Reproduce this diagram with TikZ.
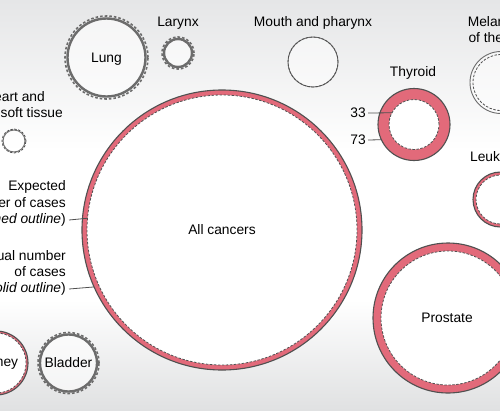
\documentclass[tikz,border=0pt]{standalone}
\usepackage{fontspec}
\setmainfont{Liberation Sans}
\definecolor{ringred}{RGB}{226,106,122}
\definecolor{edgegrey}{RGB}{80,80,80}
\definecolor{softgrey}{RGB}{108,108,108}
\definecolor{bgtop}{RGB}{229,230,231}
\definecolor{bgbot}{RGB}{224,225,226}
\begin{document}
\begin{tikzpicture}[x=1pt,y=-1pt,
  every node/.style={font=\fontsize{13.8}{16.5}\selectfont, text=black},
  disc/.style={circle, inner sep=0pt, outer sep=0pt, minimum size=#1},
  redouter/.style={disc=#1, fill=ringred, draw=edgegrey, line width=1.1pt},
  dashin/.style={disc=#1, fill=white, draw=edgegrey, line width=0.8pt, dash pattern=on 2.5pt off 1.5pt},
  greysolid/.style={disc=#1, fill=white, fill opacity=0.6, draw=softgrey, draw opacity=1, line width=2.4pt},
  greydash/.style={disc=#1, draw=softgrey, line width=1.6pt, dash pattern=on 2.6pt off 2pt},
  thinsolid/.style={disc=#1, fill=white, fill opacity=0.5, draw=softgrey, draw opacity=1, line width=0.9pt},
  thindash/.style={disc=#1, draw=edgegrey, line width=0.8pt, dash pattern=on 2.5pt off 1.5pt},
  lbl/.style={inner sep=0pt, anchor=east},
  lead/.style={draw=edgegrey, line width=0.8pt}]
\useasboundingbox (0,0) rectangle (500,410);
\clip (0,0) rectangle (500,410);
\fill[white] (0,0) rectangle (500,410);
\shade[top color=bgtop, bottom color=white] (0,0) rectangle (500,150.5);
\shade[top color=white, bottom color=bgbot] (0,299.5) rectangle (500,410);

% All cancers
\node[redouter=280pt] (allo) at (222,230) {};
\node[dashin=270pt] (alli) at (222,230) {};
\node (allt) at (222,230) {All cancers};

% Lung
\node[greydash=83pt] (lungo) at (106.5,57.5) {};
\node[greysolid=78pt] (lungi) at (106.5,57.5) {};
\node (lungt) at (106.5,59) {Lung};

% Larynx
\node[greydash=32pt] (laro) at (178,53) {};
\node[greysolid=28pt] (lari) at (178,53) {};
\node (lart) at (178,23) {Larynx};

% Heart and soft tissue
\node[thinsolid=22pt] (hearti) at (14,141) {};
\node[thindash=24pt] (hearto) at (14,141) {};
\node[lbl] (heart1) at (45,97) {Heart and};
\node[lbl] (heart2) at (63,113) {soft tissue};

% Mouth and pharynx
\node[thinsolid=50pt] (mouthi) at (313,62) {};
\node[thindash=50pt] (moutho) at (313,62) {};
\node (moutht) at (313,23) {Mouth and pharynx};

% Thyroid
\node[redouter=72pt] (thyo) at (414,124.5) {};
\node[dashin=50pt] (thyi) at (414,124.5) {};
\node (thyt) at (413,73) {Thyroid};
\node[lbl] (n33) at (366,113) {33};
\node[lbl] (n73) at (366,140) {73};
\draw[lead] (n33.east) ++(2,0) -- (thyi.152.6);
\draw[lead] (n73.east) ++(2,0) -- (thyo.205.5);

% Melanoma
\node[thinsolid=62pt] (melo) at (501,82.5) {};
\node[thindash=56pt] (meli) at (501,82.5) {};
\node[align=center] (melt) at (500,29.5) {Melanoma\\of the skin};

% Leukemia
\node[redouter=55pt] (leuo) at (500.5,199.5) {};
\node[dashin=49pt] (leui) at (500.5,199.5) {};
\node (leut) at (500,157) {Leukemia};

% Prostate
\node[redouter=150pt] (proo) at (448,318) {};
\node[dashin=134pt] (proi) at (448,318) {};
\node (prot) at (447,318) {Prostate};

% Kidney
\node[redouter=64pt] (kido) at (-4,363) {};
\node[dashin=60pt] (kidi) at (-4,363) {};
\node (kidt) at (-3,363) {Kidney};

% Bladder
\node[greydash=61pt] (blao) at (68.5,363) {};
\node[greysolid=57pt] (blai) at (68.5,363) {};
\node (blat) at (68.5,363) {Bladder};

% Legend labels
\node[lbl] (exp1) at (66,187) {Expected};
\node[lbl] (exp2) at (66,203) {number of cases};
\node[lbl] (exp3) at (66,220) {(\textit{dashed outline})};
\node[lbl] (act1) at (66,256) {Actual number};
\node[lbl] (act2) at (66,272) {of cases};
\node[lbl] (act3) at (66,289) {(\textit{solid outline})};
\draw[lead] (exp3.east) ++(3,0) -- (alli.175.75);
\draw[lead] (act3.east) ++(3,0) -- (allo.204.9);
\end{tikzpicture}
\end{document}
